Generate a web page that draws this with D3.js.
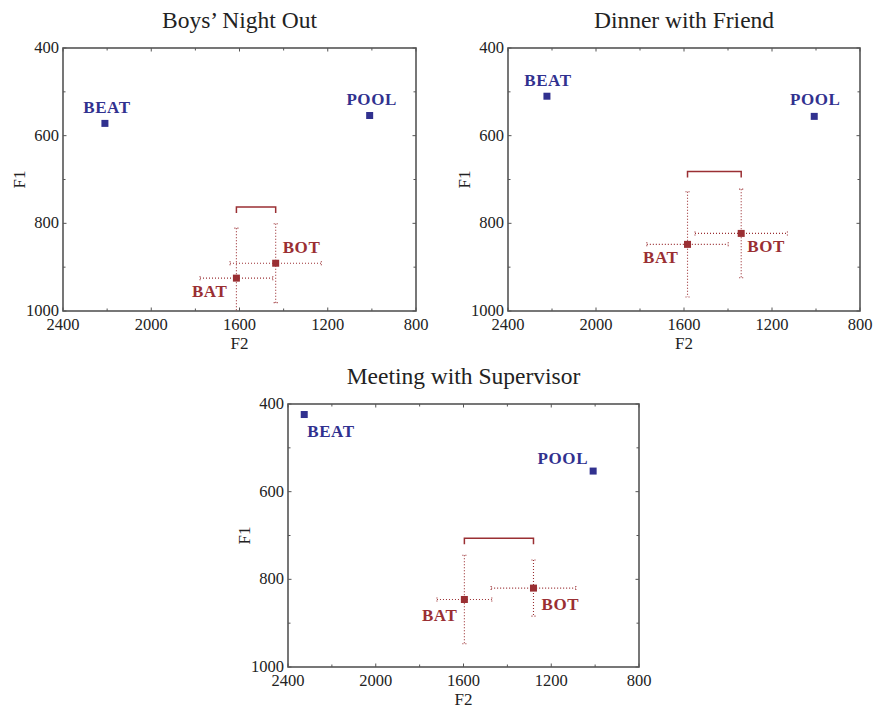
<!DOCTYPE html>
<html>
<head>
<meta charset="utf-8">
<script src="https://cdn.jsdelivr.net/npm/d3@7"></script>
<style>
  body { margin: 0; background: #fff; }
  text { font-family: "Liberation Serif", "Times New Roman", serif; fill: #222; }
  .tick-label { font-size: 16.5px; }
  .axis-title { font-size: 17px; }
  .panel-title { font-size: 23.5px; }
  .word { font-size: 17px; font-weight: bold; letter-spacing: 0.6px; }
</style>
</head>
<body>
<div id="chart"></div>
<script>
// data
var panelTitles = ["Boys\u2019 Night Out", "Dinner with Friend", "Meeting with Supervisor"];
var words = ["BEAT", "POOL", "BAT", "BOT"];
var f2 = [[2210, 1010, 1614, 1436], [2223, 1008, 1584, 1340], [2326, 1009, 1596, 1281]];
var f1 = [[572, 554, 925, 891], [510, 556, 848, 823], [424, 553, 846, 820]];
// spread (error bar half widths), only for BAT and BOT
var f2Spread = [[0, 0, 165, 207], [0, 0, 185, 210], [0, 0, 125, 193]];
var f1Spread = [[0, 0, 114, 90], [0, 0, 120, 101], [0, 0, 101, 64]];
var bracketF1 = [763, 682, 706];
var xTicks = [2400, 2000, 1600, 1200, 800];
var xMinor = [2200, 1800, 1400, 1000];
var yTicks = [400, 600, 800, 1000];
var yMinor = [500, 700, 900];

var svgWidth = 874;
var svgHeight = 709;
var blue = "#31318f";
var red = "#9a2f33";

// frame boxes of the three panels
var boxes = [
  {left: 63, right: 416, top: 48, bottom: 311},
  {left: 508, right: 860, top: 48, bottom: 311},
  {left: 288, right: 639, top: 404, bottom: 667}
];

// label placement next to each point: [anchor, dx, dy]
var labelPos = [
  [["middle", 2, -10], ["middle", 2, -11], ["end", -9, 19], ["start", 7, -10]],
  [["middle", 1, -10], ["middle", 1, -11], ["end", -9, 19], ["start", 6, 19]],
  [["start", 3, 22], ["end", -5, -7], ["end", -7, 22], ["start", 8, 22]]
];

var svg = d3.select("#chart")
  .append("svg")
  .attr("width", svgWidth)
  .attr("height", svgHeight);

boxes.forEach(function (b, i) {
  var x = d3.scaleLinear().domain([2400, 800]).range([b.left, b.right]);
  var y = d3.scaleLinear().domain([400, 1000]).range([b.top, b.bottom]);
  var g = svg.append("g");

  // title
  g.append("text")
    .attr("class", "panel-title")
    .attr("x", (b.left + b.right) / 2)
    .attr("y", b.top - 20)
    .attr("text-anchor", "middle")
    .text(panelTitles[i]);

  // inward ticks on all four sides
  var major = 3.5, minor = 2.5;
  var tickG = g.append("g").attr("stroke", "#555").attr("stroke-width", 1);
  xTicks.concat(xMinor).forEach(function (t) {
    var len = xTicks.indexOf(t) >= 0 ? major : minor;
    tickG.append("line").attr("x1", x(t)).attr("x2", x(t)).attr("y1", b.bottom).attr("y2", b.bottom - len);
    tickG.append("line").attr("x1", x(t)).attr("x2", x(t)).attr("y1", b.top).attr("y2", b.top + len);
  });
  yTicks.concat(yMinor).forEach(function (t) {
    var len = yTicks.indexOf(t) >= 0 ? major : minor;
    tickG.append("line").attr("y1", y(t)).attr("y2", y(t)).attr("x1", b.left).attr("x2", b.left + len);
    tickG.append("line").attr("y1", y(t)).attr("y2", y(t)).attr("x1", b.right).attr("x2", b.right - len);
  });

  g.append("rect")
    .attr("x", b.left).attr("y", b.top)
    .attr("width", b.right - b.left).attr("height", b.bottom - b.top)
    .attr("fill", "none").attr("stroke", "#555").attr("stroke-width", 1.6);

  // tick labels
  g.selectAll(".xl").data(xTicks).enter().append("text")
    .attr("class", "tick-label")
    .attr("x", d => x(d)).attr("y", b.bottom + 19)
    .attr("text-anchor", "middle")
    .text(d => d);
  g.selectAll(".yl").data(yTicks).enter().append("text")
    .attr("class", "tick-label")
    .attr("x", b.left - 4).attr("y", d => y(d) + 5)
    .attr("text-anchor", "end")
    .text(d => d);

  g.append("text")
    .attr("class", "axis-title")
    .attr("x", (b.left + b.right) / 2).attr("y", b.bottom + 38)
    .attr("text-anchor", "middle")
    .text("F2");
  g.append("text")
    .attr("class", "axis-title")
    .attr("transform", `translate(${b.left - 38}, ${(b.top + b.bottom) / 2}) rotate(-90)`)
    .attr("text-anchor", "middle")
    .text("F1");

  // clip for the error bars
  var clipId = "clip" + i;
  svg.append("clipPath").attr("id", clipId)
    .append("rect")
    .attr("x", b.left).attr("y", b.top)
    .attr("width", b.right - b.left).attr("height", b.bottom - b.top);

  var pts = words.map(function (w, j) {
    return {word: w, f2: f2[i][j], f1: f1[i][j], s2: f2Spread[i][j], s1: f1Spread[i][j], pos: labelPos[i][j]};
  });

  var errG = g.append("g")
    .attr("clip-path", `url(#${clipId})`)
    .attr("stroke", red).attr("stroke-width", 1.1)
    .attr("stroke-dasharray", "1,2").attr("fill", "none");
  pts.filter(d => d.s2 > 0).forEach(function (d) {
    var cx = x(d.f2), cy = y(d.f1);
    var xa = x(d.f2 + d.s2), xb = x(d.f2 - d.s2);
    var ya = y(d.f1 - d.s1), yb = y(d.f1 + d.s1);
    errG.append("line").attr("x1", xa).attr("x2", xb).attr("y1", cy).attr("y2", cy);
    errG.append("line").attr("x1", cx).attr("x2", cx).attr("y1", ya).attr("y2", yb);
    // small caps at ends
    [xa, xb].forEach(function (xx) {
      errG.append("line").attr("x1", xx).attr("x2", xx).attr("y1", cy - 2).attr("y2", cy + 2);
    });
    [ya, yb].forEach(function (yy) {
      errG.append("line").attr("x1", cx - 2).attr("x2", cx + 2).attr("y1", yy).attr("y2", yy);
    });
  });

  // bracket joining BAT and BOT
  var by = y(bracketF1[i]);
  var bx1 = x(f2[i][2]), bx2 = x(f2[i][3]);
  g.append("path")
    .attr("d", `M${bx1},${by + 6}V${by}H${bx2}V${by + 6}`)
    .attr("fill", "none").attr("stroke", red).attr("stroke-width", 1.5);

  // points
  g.selectAll(".pt").data(pts).enter().append("rect")
    .attr("x", d => x(d.f2) - 3.5).attr("y", d => y(d.f1) - 3.5)
    .attr("width", 7).attr("height", 7)
    .attr("fill", (d, j) => j < 2 ? blue : red);

  g.selectAll(".word").data(pts).enter().append("text")
    .attr("class", "word")
    .attr("x", d => x(d.f2) + d.pos[1])
    .attr("y", d => y(d.f1) + d.pos[2])
    .attr("text-anchor", d => d.pos[0])
    .style("fill", (d, j) => j < 2 ? blue : red)
    .text(d => d.word);
});
</script>
</body>
</html>
